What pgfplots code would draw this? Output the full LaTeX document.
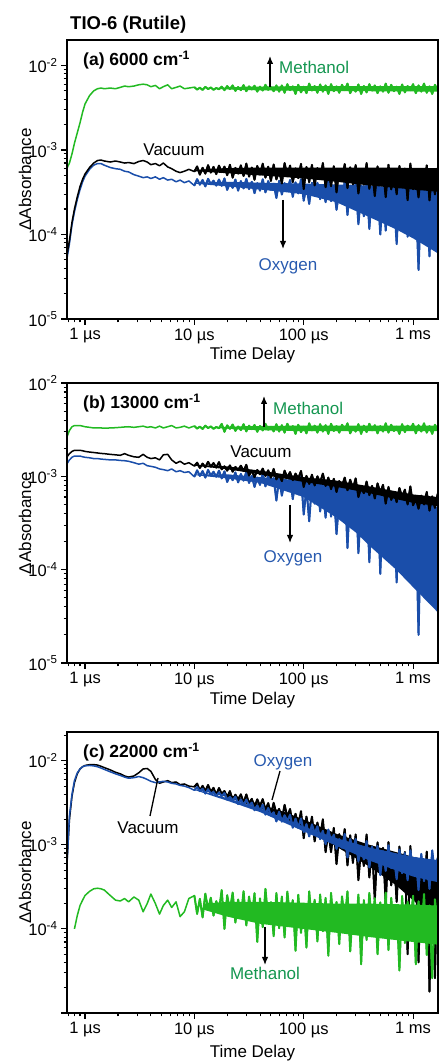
\documentclass[border=0pt]{standalone}
\usepackage{fontspec}
\setmainfont{Liberation Sans}
\usepackage{pgfplots}
\usepackage{pgfplotstable}
\pgfplotsset{compat=1.18}
\usetikzlibrary{arrows.meta}
\definecolor{cgreen}{RGB}{34,186,34}
\definecolor{cblue}{RGB}{26,78,170}
\definecolor{tgreen}{RGB}{20,150,80}
\definecolor{tblue}{RGB}{40,90,175}
\newcommand{\annfont}{\fontsize{17}{20}\selectfont}

% Panel (a) 6000 cm-1 : time (us), vacuum, oxygen, methanol
\pgfplotstableread{
t vac oxy meth
0.68 5.5e-5 5.0e-5 6.0e-4
0.72 8.5e-5 7.8e-5 7.0e-4
0.76 1.4e-4 1.3e-4 9.0e-4
0.8 2.0e-4 1.85e-4 1.2e-3
0.85 2.8e-4 2.6e-4 1.6e-3
0.9 3.7e-4 3.4e-4 2.1e-3
0.95 4.5e-4 4.2e-4 2.8e-3
1.0 5.2e-4 4.9e-4 3.5e-3
1.1 6.2e-4 5.9e-4 4.4e-3
1.2 7.0e-4 6.6e-4 5.0e-3
1.3 7.5e-4 6.9e-4 5.3e-3
1.4 7.6e-4 6.9e-4 5.4e-3
1.5 7.4e-4 6.6e-4 5.3e-3
1.7 7.2e-4 6.2e-4 5.4e-3
1.9 7.4e-4 6.0e-4 5.3e-3
2.1 7.2e-4 5.9e-4 5.5e-3
2.3 7.0e-4 5.6e-4 5.7e-3
2.5 7.1e-4 5.5e-4 5.6e-3
2.8 6.9e-4 5.1e-4 5.7e-3
3.1 7.3e-4 4.9e-4 5.9e-3
3.4 7.5e-4 4.7e-4 6.0e-3
3.7 7.2e-4 4.8e-4 5.9e-3
4.0 6.7e-4 4.6e-4 5.6e-3
4.4 6.9e-4 4.8e-4 5.8e-3
4.8 6.5e-4 4.5e-4 5.3e-3
5.2 7.0e-4 4.7e-4 5.6e-3
5.7 6.3e-4 4.4e-4 5.9e-3
6.2 6.0e-4 4.5e-4 5.3e-3
6.8 5.6e-4 4.2e-4 5.5e-3
7.4 5.4e-4 4.4e-4 5.7e-3
8.1 5.6e-4 4.1e-4 5.3e-3
8.9 5.9e-4 4.3e-4 5.4e-3
10.0 5.55e-4 3.79e-4 5.53e-3
10.59 6.38e-4 4.51e-4 5.18e-3
11.22 5.10e-4 3.88e-4 5.45e-3
11.89 6.15e-4 4.42e-4 5.13e-3
12.59 5.25e-4 3.70e-4 5.58e-3
13.34 6.60e-4 4.56e-4 5.25e-3
14.13 5.40e-4 3.93e-4 5.48e-3
14.96 6.30e-4 4.33e-4 5.15e-3
15.85 5.18e-4 3.79e-4 5.40e-3
16.79 6.53e-4 4.47e-4 5.23e-3
17.78 5.47e-4 3.76e-4 5.60e-3
18.84 6.35e-4 4.60e-4 5.10e-3
19.95 5.03e-4 3.37e-4 5.70e-3
21.13 6.68e-4 4.08e-4 5.25e-3
22.39 4.70e-4 3.56e-4 5.80e-3
23.71 6.13e-4 4.47e-4 5.00e-3
25.12 5.25e-4 3.30e-4 5.55e-3
26.61 6.57e-4 4.28e-4 5.10e-3
28.18 4.92e-4 3.50e-4 5.85e-3
29.85 6.90e-4 4.54e-4 4.95e-3
31.62 4.84e-4 3.45e-4 5.65e-3
33.50 6.19e-4 4.20e-4 5.20e-3
35.48 4.44e-4 3.08e-4 5.75e-3
37.58 6.46e-4 4.05e-4 4.90e-3
39.81 5.11e-4 3.30e-4 5.60e-3
42.17 6.87e-4 4.50e-4 5.05e-3
44.67 4.71e-4 3.15e-4 5.90e-3
47.32 6.33e-4 4.28e-4 5.15e-3
50.12 4.30e-4 3.38e-4 5.50e-3
53.09 6.73e-4 3.98e-4 4.95e-3
56.23 4.48e-4 2.70e-4 5.80e-3
59.57 5.74e-4 4.32e-4 4.90e-3
63.10 4.01e-4 2.97e-4 5.80e-3
66.83 7.00e-4 4.05e-4 4.75e-3
70.79 4.95e-4 3.33e-4 6.00e-3
74.99 6.53e-4 4.41e-4 5.10e-3
79.43 4.17e-4 2.79e-4 5.65e-3
84.14 6.06e-4 4.14e-4 4.60e-3
89.13 4.64e-4 3.06e-4 5.90e-3
94.41 6.84e-4 4.50e-4 4.80e-3
100.0 3.45e-4 2.51e-4 5.60e-3
105.9 6.29e-4 3.77e-4 4.70e-3
112.2 4.16e-4 2.30e-4 6.10e-3
118.9 6.65e-4 4.09e-4 5.05e-3
125.9 3.81e-4 2.93e-4 5.70e-3
133.4 6.11e-4 4.09e-4 4.75e-3
141.3 4.52e-4 2.62e-4 5.95e-3
149.6 7.00e-4 3.77e-4 4.90e-3
158.5 3.63e-4 2.41e-4 5.80e-3
167.9 5.76e-4 4.30e-4 4.60e-3
177.8 3.73e-4 2.48e-4 6.00e-3
188.4 6.42e-4 3.65e-4 4.95e-3
199.5 3.15e-4 1.96e-4 5.65e-3
211.3 5.85e-4 3.26e-4 4.75e-3
223.9 4.50e-4 2.35e-4 5.90e-3
237.1 6.81e-4 4.30e-4 5.10e-3
251.2 3.54e-4 1.70e-4 6.10e-3
266.1 6.23e-4 3.78e-4 4.70e-3
281.8 3.92e-4 2.61e-4 5.50e-3
298.5 6.62e-4 4.04e-4 4.90e-3
316.2 3.06e-4 1.32e-4 5.95e-3
335.0 5.34e-4 3.08e-4 4.60e-3
354.8 3.89e-4 1.64e-4 5.70e-3
375.8 7.00e-4 4.04e-4 4.80e-3
398.1 3.47e-4 1.16e-4 6.00e-3
421.7 5.76e-4 3.40e-4 5.05e-3
446.7 2.85e-4 1.96e-4 5.80e-3
473.2 6.38e-4 3.72e-4 4.70e-3
501.2 4.10e-4 1.00e-4 5.65e-3
530.9 5.96e-4 3.24e-4 4.90e-3
562.3 2.77e-4 1.11e-4 6.10e-3
595.7 6.68e-4 4.00e-4 4.75e-3
631.0 3.42e-4 1.45e-4 5.90e-3
668.3 5.38e-4 2.64e-4 4.95e-3
707.9 2.99e-4 7.7e-5 5.60e-3
749.9 6.47e-4 3.66e-4 4.60e-3
794.3 4.07e-4 1.28e-4 5.95e-3
841.4 6.03e-4 3.32e-4 4.80e-3
891.3 2.55e-4 9.4e-5 5.70e-3
944.1 6.90e-4 3.83e-4 5.10e-3
1000 3.43e-4 1.58e-4 6.00e-3
1059 5.00e-4 2.77e-4 4.70e-3
1122 2.75e-4 3.8e-5 5.80e-3
1189 5.68e-4 3.29e-4 4.90e-3
1259 3.65e-4 8.9e-5 6.10e-3
1334 6.58e-4 2.60e-4 4.75e-3
1413 2.53e-4 5.5e-5 5.65e-3
1496 5.45e-4 3.80e-4 4.60e-3
1585 2.98e-4 1.41e-4 5.90e-3
1679 6.13e-4 2.95e-4 5.05e-3
}\taba

% Panel (b) 13000 cm-1
\pgfplotstableread{
t vac oxy meth
0.68 1.60e-3 1.35e-3 2.6e-3
0.72 1.75e-3 1.50e-3 3.1e-3
0.76 1.85e-3 1.60e-3 3.4e-3
0.8 1.90e-3 1.65e-3 3.5e-3
0.85 1.90e-3 1.65e-3 3.5e-3
0.9 1.90e-3 1.65e-3 3.5e-3
0.95 1.88e-3 1.62e-3 3.45e-3
1.0 1.85e-3 1.60e-3 3.4e-3
1.1 1.82e-3 1.58e-3 3.35e-3
1.2 1.80e-3 1.55e-3 3.3e-3
1.3 1.78e-3 1.55e-3 3.3e-3
1.4 1.76e-3 1.53e-3 3.3e-3
1.5 1.75e-3 1.52e-3 3.28e-3
1.7 1.72e-3 1.50e-3 3.3e-3
1.9 1.70e-3 1.50e-3 3.32e-3
2.1 1.68e-3 1.48e-3 3.35e-3
2.3 1.75e-3 1.47e-3 3.38e-3
2.5 1.68e-3 1.45e-3 3.4e-3
2.8 1.62e-3 1.40e-3 3.35e-3
3.1 1.60e-3 1.35e-3 3.4e-3
3.4 1.72e-3 1.38e-3 3.45e-3
3.7 1.60e-3 1.30e-3 3.35e-3
4.0 1.55e-3 1.28e-3 3.4e-3
4.4 1.58e-3 1.25e-3 3.3e-3
4.8 1.50e-3 1.20e-3 3.45e-3
5.2 1.70e-3 1.18e-3 3.3e-3
5.7 1.72e-3 1.15e-3 3.4e-3
6.2 1.50e-3 1.20e-3 3.5e-3
6.8 1.38e-3 1.12e-3 3.3e-3
7.4 1.45e-3 1.15e-3 3.35e-3
8.1 1.35e-3 1.10e-3 3.45e-3
8.9 1.40e-3 1.12e-3 3.3e-3
10.0 1.29e-3 9.9e-4 3.46e-3
10.59 1.40e-3 1.16e-3 3.25e-3
11.22 1.23e-3 1.01e-3 3.41e-3
11.89 1.37e-3 1.14e-3 3.22e-3
12.59 1.25e-3 9.7e-4 3.49e-3
13.34 1.43e-3 1.17e-3 3.29e-3
14.13 1.27e-3 1.02e-3 3.43e-3
14.96 1.39e-3 1.12e-3 3.23e-3
15.85 1.24e-3 9.9e-4 3.38e-3
16.79 1.42e-3 1.15e-3 3.28e-3
17.78 1.19e-3 9.5e-4 3.65e-3
18.84 1.28e-3 1.13e-3 3.00e-3
19.95 1.15e-3 8.7e-4 3.52e-3
21.13 1.31e-3 1.02e-3 3.23e-3
22.39 1.12e-3 9.1e-4 3.59e-3
23.71 1.26e-3 1.10e-3 3.07e-3
25.12 1.17e-3 8.6e-4 3.42e-3
26.61 1.30e-3 1.06e-3 3.13e-3
28.18 1.14e-3 9.0e-4 3.62e-3
29.85 1.33e-3 1.12e-3 3.03e-3
31.62 1.02e-3 8.5e-4 3.49e-3
33.50 1.15e-3 1.01e-3 3.20e-3
35.48 9.8e-4 7.7e-4 3.55e-3
37.58 1.17e-3 9.7e-4 3.00e-3
39.81 1.05e-3 8.1e-4 3.46e-3
42.17 1.21e-3 1.07e-3 3.10e-3
44.67 1.01e-3 7.8e-4 3.65e-3
47.32 1.16e-3 1.02e-3 3.16e-3
50.12 9.7e-4 8.3e-4 3.39e-3
53.09 1.20e-3 9.6e-4 3.03e-3
56.23 9.3e-4 5.5e-4 3.62e-3
59.57 1.04e-3 9.6e-4 3.02e-3
63.10 8.9e-4 6.2e-4 3.53e-3
66.83 1.15e-3 8.9e-4 2.94e-3
70.79 9.7e-4 7.1e-4 3.66e-3
74.99 1.11e-3 9.8e-4 3.15e-3
79.43 9.1e-4 5.7e-4 3.45e-3
84.14 1.07e-3 9.1e-4 2.85e-3
89.13 9.5e-4 6.4e-4 3.57e-3
94.41 1.14e-3 1.00e-3 2.98e-3
100.0 7.7e-4 3.9e-4 3.40e-3
105.9 1.01e-3 7.5e-4 2.89e-3
112.2 8.3e-4 3.3e-4 3.70e-3
118.9 1.04e-3 8.4e-4 3.11e-3
125.9 8.0e-4 5.1e-4 3.49e-3
133.4 1.00e-3 8.4e-4 2.94e-3
141.3 8.6e-4 4.2e-4 3.62e-3
149.6 1.07e-3 7.5e-4 3.02e-3
158.5 7.9e-4 3.6e-4 3.53e-3
167.9 9.7e-4 9.0e-4 2.85e-3
177.8 7.3e-4 3.7e-4 3.66e-3
188.4 9.4e-4 6.7e-4 3.06e-3
199.5 6.8e-4 2.4e-4 3.45e-3
211.3 8.9e-4 5.7e-4 2.94e-3
223.9 7.9e-4 3.4e-4 3.57e-3
237.1 9.7e-4 8.4e-4 3.15e-3
251.2 7.1e-4 1.7e-4 3.70e-3
266.1 9.2e-4 7.1e-4 2.89e-3
281.8 7.4e-4 4.0e-4 3.36e-3
298.5 9.5e-4 7.7e-4 3.02e-3
316.2 6.0e-4 1.5e-4 3.62e-3
335.0 7.6e-4 5.0e-4 2.85e-3
354.8 6.6e-4 2.2e-4 3.49e-3
375.8 8.8e-4 6.9e-4 2.98e-3
398.1 6.3e-4 1.2e-4 3.66e-3
421.7 7.9e-4 5.6e-4 3.11e-3
446.7 5.8e-4 2.8e-4 3.53e-3
473.2 8.4e-4 6.3e-4 2.89e-3
501.2 6.7e-4 9.0e-5 3.45e-3
530.9 8.1e-4 5.3e-4 3.02e-3
562.3 5.1e-4 1.3e-4 3.70e-3
595.7 7.7e-4 6.1e-4 2.94e-3
631.0 5.6e-4 1.9e-4 3.57e-3
668.3 6.8e-4 3.8e-4 3.06e-3
707.9 5.3e-4 7.3e-5 3.40e-3
749.9 7.5e-4 5.5e-4 2.85e-3
794.3 6.0e-4 1.6e-4 3.62e-3
841.4 7.2e-4 5.0e-4 2.98e-3
891.3 5.0e-4 1.0e-4 3.49e-3
944.1 7.8e-4 5.8e-4 3.15e-3
1000 4.9e-4 1.95e-4 3.66e-3
1059 5.8e-4 3.7e-4 2.89e-3
1122 4.5e-4 2.0e-5 3.53e-3
1189 6.2e-4 4.45e-4 3.02e-3
1259 5.0e-4 9.5e-5 3.70e-3
1334 6.8e-4 3.45e-4 2.94e-3
1413 4.3e-4 4.5e-5 3.45e-3
1496 6.1e-4 5.2e-4 2.85e-3
1585 4.6e-4 1.7e-4 3.57e-3
1679 6.5e-4 3.95e-4 3.11e-3
}\tabb

% Panel (c) 22000 cm-1
\pgfplotstableread{
t vac oxy meth
0.68 5.5e-4 5.0e-4 nan
0.72 2.0e-3 2.2e-3 nan
0.76 3.8e-3 4.0e-3 nan
0.8 5.5e-3 5.8e-3 1.0e-4
0.85 7.0e-3 7.2e-3 1.45e-4
0.9 8.0e-3 8.0e-3 1.9e-4
0.95 8.5e-3 8.5e-3 2.2e-4
1.0 8.8e-3 8.7e-3 2.5e-4
1.1 9.0e-3 8.8e-3 2.8e-4
1.2 9.0e-3 8.7e-3 3.0e-4
1.3 8.9e-3 8.5e-3 3.05e-4
1.4 8.6e-3 8.2e-3 3.0e-4
1.5 8.3e-3 7.9e-3 2.9e-4
1.7 7.8e-3 7.4e-3 2.5e-4
1.9 7.3e-3 7.0e-3 2.2e-4
2.1 7.0e-3 6.7e-3 2.15e-4
2.3 6.6e-3 6.4e-3 2.3e-4
2.5 6.4e-3 6.2e-3 2.1e-4
2.8 6.6e-3 6.3e-3 2.4e-4
3.1 7.2e-3 6.5e-3 2.2e-4
3.4 8.0e-3 6.3e-3 1.6e-4
3.7 8.1e-3 6.0e-3 2.0e-4
4.0 7.5e-3 5.7e-3 2.6e-4
4.4 6.0e-3 5.5e-3 2.0e-4
4.8 5.4e-3 5.6e-3 1.5e-4
5.2 5.6e-3 5.7e-3 1.9e-4
5.7 5.8e-3 5.6e-3 2.2e-4
6.2 5.5e-3 5.4e-3 1.8e-4
6.8 5.6e-3 5.3e-3 2.1e-4
7.4 5.2e-3 5.1e-3 1.4e-4
8.1 5.3e-3 5.0e-3 1.6e-4
8.9 5.0e-3 4.8e-3 2.3e-4
10.0 4.90e-3 4.46e-3 2.49e-4
10.59 5.36e-3 4.86e-3 1.51e-4
11.22 4.42e-3 4.36e-3 2.28e-4
11.89 5.03e-3 4.64e-3 1.37e-4
12.59 4.34e-3 4.08e-3 2.63e-4
13.34 5.15e-3 4.57e-3 1.72e-4
14.13 4.26e-3 4.07e-3 2.35e-4
14.96 4.77e-3 4.26e-3 1.44e-4
15.85 3.93e-3 3.82e-3 2.14e-4
16.79 4.74e-3 4.19e-3 1.65e-4
17.78 4.05e-3 3.81e-3 2.90e-4
18.84 4.37e-3 4.12e-3 1.00e-4
19.95 3.69e-3 3.45e-3 2.52e-4
21.13 4.36e-3 3.71e-3 1.67e-4
22.39 3.38e-3 3.37e-3 2.71e-4
23.71 3.95e-3 3.74e-3 1.19e-4
25.12 3.47e-3 3.06e-3 2.24e-4
26.61 3.99e-3 3.47e-3 1.38e-4
28.18 3.16e-3 2.98e-3 2.81e-4
29.85 3.98e-3 3.45e-3 1.10e-4
31.62 3.10e-3 2.91e-3 2.43e-4
33.50 3.53e-3 3.18e-3 1.39e-4
35.48 2.79e-3 2.58e-3 2.66e-4
37.58 3.48e-3 2.95e-3 7.0e-5
39.81 2.89e-3 2.52e-3 2.31e-4
42.17 3.50e-3 3.00e-3 1.05e-4
44.67 2.58e-3 2.29e-3 3.00e-4
47.32 3.14e-3 2.74e-3 1.28e-4
50.12 2.26e-3 2.24e-3 2.08e-4
53.09 3.16e-3 2.44e-3 8.2e-5
56.23 2.32e-3 1.90e-3 2.67e-4
59.57 2.68e-3 2.47e-3 1.02e-4
63.10 1.98e-3 1.89e-3 2.43e-4
66.83 2.99e-3 2.25e-3 7.9e-5
70.79 2.15e-3 1.92e-3 2.78e-4
74.99 2.67e-3 2.27e-3 1.37e-4
79.43 1.68e-3 1.60e-3 2.20e-4
84.14 2.34e-3 2.05e-3 5.5e-5
89.13 1.70e-3 1.59e-3 2.55e-4
94.41 2.51e-3 2.06e-3 9.0e-5
100.0 1.20e-3 1.42e-3 1.99e-4
105.9 2.17e-3 1.76e-3 6.0e-5
112.2 1.34e-3 1.26e-3 2.80e-4
118.9 2.16e-3 1.75e-3 1.18e-4
125.9 1.10e-3 1.36e-3 2.22e-4
133.4 1.84e-3 1.66e-3 7.1e-5
141.3 1.23e-3 1.17e-3 2.57e-4
149.6 2.01e-3 1.47e-3 9.4e-5
158.5 8.2e-4 1.02e-3 2.34e-4
167.9 1.46e-3 1.52e-3 4.8e-5
177.8 8.2e-4 1.08e-3 2.68e-4
188.4 1.59e-3 1.32e-3 1.02e-4
199.5 5.9e-4 8.96e-4 2.09e-4
211.3 1.34e-3 1.17e-3 6.6e-5
223.9 9.1e-4 9.24e-4 2.44e-4
237.1 1.54e-3 1.35e-3 1.25e-4
251.2 5.7e-4 7.08e-4 2.80e-4
266.1 1.30e-3 1.17e-3 5.4e-5
281.8 6.1e-4 8.6e-4 1.85e-4
298.5 1.33e-3 1.17e-3 9.0e-5
316.2 3.8e-4 6.4e-4 2.56e-4
335.0 9.5e-4 9.6e-4 3.8e-5
354.8 5.6e-4 6.7e-4 2.20e-4
375.8 1.33e-3 1.11e-3 7.4e-5
398.1 4.1e-4 5.4e-4 2.68e-4
421.7 9.6e-4 9.5e-4 1.11e-4
446.7 2.2e-4 6.5e-4 2.32e-4
473.2 1.07e-3 9.7e-4 5.0e-5
501.2 4.9e-4 4.36e-4 2.07e-4
530.9 9.2e-4 8.4e-4 8.6e-5
562.3 2.0e-4 4.9e-4 2.70e-4
595.7 1.08e-3 9.88e-4 5.6e-5
631.0 3.3e-4 5.3e-4 2.34e-4
668.3 7.5e-4 7.3e-4 9.2e-5
707.9 2.1e-4 3.9e-4 1.87e-4
749.9 9.55e-4 8.8e-4 3.2e-5
794.3 4.2e-4 4.6e-4 2.46e-4
841.4 8.2e-4 8.0e-4 6.8e-5
891.3 5.0e-5 3.8e-4 2.10e-4
944.1 9.7e-4 8.6e-4 1.15e-4
1000 2.75e-4 5.0e-4 2.48e-4
1059 5.7e-4 7.0e-4 3.8e-5
1122 4.0e-5 2.9e-4 2.13e-4
1189 6.8e-4 7.8e-4 7.3e-5
1259 2.9e-4 3.7e-4 2.60e-4
1334 8.3e-4 6.6e-4 4.9e-5
1413 1.8e-5 3.0e-4 1.90e-4
1496 5.9e-4 8.6e-4 2.6e-5
1585 2.6e-5 4.4e-4 2.25e-4
1679 6.8e-4 7.0e-4 9.6e-5
}\tabc

\pgfplotsset{
  base/.style={mark=none, line width=1.5pt, line join=round},
  noisy/.style={mark=none, line width=2.0pt, line join=round, skip coords between index={0}{32}},
  core/.style={draw=none},
}

\begin{document}
\begin{tikzpicture}
\path[use as bounding box] (0,0) rectangle (440pt,1062pt);

% ---------- (a)
\begin{axis}[
  xmode=log, ymode=log,
  scale only axis, width=371pt, height=279pt,
  at={(67pt,743pt)}, anchor=south west,
  xmin=0.684, xmax=1690, ymin=1e-5, ymax=2e-2,
  xtick={1,10,100,1000},
  xticklabels={1 µs,10 µs,100 µs,1 ms},
  minor xtick={0.7,0.8,0.9,2,3,4,5,6,7,8,9,20,30,40,50,60,70,80,90,200,300,400,500,600,700,800,900},
  ytick={1e-5,1e-4,1e-3,1e-2},
  yticklabels={10\textsuperscript{-5},10\textsuperscript{-4},10\textsuperscript{-3},10\textsuperscript{-2}},
  minor ytick={2e-5,3e-5,4e-5,5e-5,6e-5,7e-5,8e-5,9e-5,2e-4,3e-4,4e-4,5e-4,6e-4,7e-4,8e-4,9e-4,2e-3,3e-3,4e-3,5e-3,6e-3,7e-3,8e-3,9e-3},
  tick align=outside, xtick pos=left, ytick pos=left,
  major tick length=6pt, minor tick length=3.5pt,
  tick style={black, line width=1.1pt},
  axis line style={line width=1.8pt},
  tick label style={font=\fontsize{16.5}{19}\selectfont},
  label style={font=\fontsize{17}{20}\selectfont},
  xlabel={Time Delay}, ylabel={ΔAbsorbance},
  ylabel style={at={(axis description cs:-0.113,0.5)}, anchor=center},
  xlabel style={at={(axis description cs:0.5,-0.129)}, anchor=center},
  axis on top]
% oxygen
\addplot[core, fill=cblue] coordinates {(10,4.1e-4) (20,4.2e-4) (40,4.1e-4) (100,4.0e-4) (200,3.9e-4) (400,3.8e-4) (700,3.6e-4) (1000,3.5e-4) (1679,3.3e-4)
  (1679,6.0e-5) (1000,9.0e-5) (700,1.15e-4) (400,1.6e-4) (200,2.4e-4) (100,3.0e-4) (40,3.4e-4) (20,3.7e-4) (10,4.0e-4)} --cycle;
\addplot[base, cblue] table[x=t, y=oxy] {\taba};
\addplot[noisy, cblue] table[x=t, y=oxy] {\taba};
% vacuum
\addplot[core, fill=black] coordinates {(10,5.8e-4) (20,6.1e-4) (40,6.2e-4) (100,6.2e-4) (400,6.2e-4) (1679,6.1e-4)
  (1679,3.2e-4) (1000,3.4e-4) (400,3.8e-4) (200,4.2e-4) (100,4.6e-4) (40,5.0e-4) (20,5.3e-4) (10,5.6e-4)} --cycle;
\addplot[base, black] table[x=t, y=vac] {\taba};
\addplot[noisy, black] table[x=t, y=vac] {\taba};
% methanol
\addplot[core, fill=cgreen] coordinates {(15,5.4e-3) (30,5.6e-3) (100,5.7e-3) (1679,5.7e-3) (1679,4.9e-3) (100,5.0e-3) (30,5.1e-3) (15,5.3e-3)} --cycle;
\addplot[base, cgreen] table[x=t, y=meth] {\taba};
\addplot[noisy, cgreen] table[x=t, y=meth] {\taba};
\end{axis}

% ---------- (b)
\begin{axis}[
  xmode=log, ymode=log,
  scale only axis, width=371pt, height=280pt,
  at={(67pt,399pt)}, anchor=south west,
  xmin=0.684, xmax=1690, ymin=1e-5, ymax=1e-2,
  xtick={1,10,100,1000},
  xticklabels={1 µs,10 µs,100 µs,1 ms},
  minor xtick={0.7,0.8,0.9,2,3,4,5,6,7,8,9,20,30,40,50,60,70,80,90,200,300,400,500,600,700,800,900},
  ytick={1e-5,1e-4,1e-3,1e-2},
  yticklabels={10\textsuperscript{-5},10\textsuperscript{-4},10\textsuperscript{-3},10\textsuperscript{-2}},
  minor ytick={2e-5,3e-5,4e-5,5e-5,6e-5,7e-5,8e-5,9e-5,2e-4,3e-4,4e-4,5e-4,6e-4,7e-4,8e-4,9e-4,2e-3,3e-3,4e-3,5e-3,6e-3,7e-3,8e-3,9e-3},
  tick align=outside, xtick pos=left, ytick pos=left,
  major tick length=6pt, minor tick length=3.5pt,
  tick style={black, line width=1.1pt},
  axis line style={line width=1.8pt},
  tick label style={font=\fontsize{16.5}{19}\selectfont},
  label style={font=\fontsize{17}{20}\selectfont},
  xlabel={Time Delay}, ylabel={ΔAbsorbance},
  ylabel style={at={(axis description cs:-0.113,0.5)}, anchor=center},
  xlabel style={at={(axis description cs:0.5,-0.132)}, anchor=center},
  axis on top]
% oxygen
\addplot[core, fill=cblue] coordinates {(10,1.05e-3) (20,1.05e-3) (40,9.8e-4) (100,9.0e-4) (200,8.3e-4) (300,7.6e-4) (400,7.0e-4) (700,6.0e-4) (1000,5.5e-4) (1679,4.7e-4)
  (1679,3.5e-5) (1000,6.5e-5) (700,1.0e-4) (400,1.8e-4) (300,2.5e-4) (200,3.6e-4) (100,6.0e-4) (40,8.5e-4) (20,9.5e-4) (10,1.03e-3)} --cycle;
\addplot[base, cblue] table[x=t, y=oxy] {\tabb};
\addplot[noisy, cblue] table[x=t, y=oxy] {\tabb};
% vacuum
\addplot[core, fill=black] coordinates {(10,1.33e-3) (20,1.28e-3) (40,1.15e-3) (100,9.8e-4) (200,9.0e-4) (400,7.8e-4) (1000,6.4e-4) (1679,6.0e-4)
  (1679,4.8e-4) (1000,5.2e-4) (400,6.6e-4) (200,7.7e-4) (100,8.7e-4) (40,1.05e-3) (20,1.19e-3) (10,1.30e-3)} --cycle;
\addplot[base, black] table[x=t, y=vac] {\tabb};
\addplot[noisy, black] table[x=t, y=vac] {\tabb};
% methanol
\addplot[core, fill=cgreen] coordinates {(15,3.35e-3) (30,3.45e-3) (100,3.5e-3) (1679,3.5e-3) (1679,3.05e-3) (100,3.05e-3) (30,3.15e-3) (15,3.3e-3)} --cycle;
\addplot[base, cgreen] table[x=t, y=meth] {\tabb};
\addplot[noisy, cgreen] table[x=t, y=meth] {\tabb};
\end{axis}

% ---------- (c)
\begin{axis}[
  xmode=log, ymode=log,
  scale only axis, width=371pt, height=281pt,
  at={(67pt,49pt)}, anchor=south west,
  xmin=0.684, xmax=1690, ymin=1e-5, ymax=2.2e-2,
  xtick={1,10,100,1000},
  xticklabels={1 µs,10 µs,100 µs,1 ms},
  minor xtick={0.7,0.8,0.9,2,3,4,5,6,7,8,9,20,30,40,50,60,70,80,90,200,300,400,500,600,700,800,900},
  ytick={1e-5,1e-4,1e-3,1e-2},
  yticklabels={,10\textsuperscript{-4},10\textsuperscript{-3},10\textsuperscript{-2}},
  minor ytick={2e-5,3e-5,4e-5,5e-5,6e-5,7e-5,8e-5,9e-5,2e-4,3e-4,4e-4,5e-4,6e-4,7e-4,8e-4,9e-4,2e-3,3e-3,4e-3,5e-3,6e-3,7e-3,8e-3,9e-3,2e-2},
  tick align=outside, xtick pos=left, ytick pos=left,
  major tick length=6pt, minor tick length=3.5pt,
  tick style={black, line width=1.1pt},
  axis line style={line width=1.8pt},
  tick label style={font=\fontsize{16.5}{19}\selectfont},
  label style={font=\fontsize{17}{20}\selectfont},
  xlabel={Time Delay}, ylabel={ΔAbsorbance},
  ylabel style={at={(axis description cs:-0.113,0.5)}, anchor=center},
  xlabel style={at={(axis description cs:0.5,-0.142)}, anchor=center},
  axis on top]
% vacuum
\addplot[core, fill=black] coordinates {(10,4.8e-3) (20,4.0e-3) (40,3.05e-3) (70,2.4e-3) (100,2.0e-3) (200,1.35e-3) (400,1.0e-3) (700,8.2e-4) (1000,7.2e-4) (1679,6.2e-4)
  (1679,1.2e-4) (1000,2.2e-4) (700,3.3e-4) (400,5.5e-4) (200,9.5e-4) (100,1.6e-3) (70,2.0e-3) (40,2.7e-3) (20,3.7e-3) (10,4.7e-3)} --cycle;
\addplot[base, black] table[x=t, y=vac] {\tabc};
\addplot[noisy, black] table[x=t, y=vac] {\tabc};
% oxygen
\addplot[core, fill=cblue] coordinates {(10,4.6e-3) (20,3.6e-3) (40,2.7e-3) (100,1.65e-3) (200,1.2e-3) (400,9.3e-4) (1000,7.2e-4) (1679,6.6e-4)
  (1679,3.6e-4) (1000,4.2e-4) (400,6.5e-4) (200,9.7e-4) (100,1.45e-3) (40,2.45e-3) (20,3.35e-3) (10,4.5e-3)} --cycle;
\addplot[base, cblue] table[x=t, y=oxy] {\tabc};
\addplot[noisy, cblue] table[x=t, y=oxy] {\tabc};
% methanol
\addplot[core, fill=cgreen] coordinates {(12,2.0e-4) (20,2.1e-4) (40,2.1e-4) (100,2.05e-4) (200,2.0e-4) (400,2.0e-4) (1000,1.95e-4) (1679,1.9e-4)
  (1679,6.5e-5) (1000,7.0e-5) (400,8.0e-5) (200,9.0e-5) (100,1.0e-4) (40,1.15e-4) (20,1.4e-4) (12,1.7e-4)} --cycle;
\addplot[base, cgreen] table[x=t, y=meth] {\tabc};
\addplot[noisy, cgreen] table[x=t, y=meth] {\tabc};
\end{axis}

% ---------- titles and annotations
\node[anchor=west, inner sep=0pt, font=\bfseries\fontsize{18.5}{22}\selectfont] at (70pt,1037pt) {TIO-6 (Rutile)};
\node[anchor=west, inner sep=0pt, font=\bfseries\fontsize{17.5}{21}\selectfont] at (83pt,1002pt) {(a) 6000 cm\textsuperscript{-1}};
\node[anchor=west, inner sep=0pt, font=\bfseries\fontsize{17.5}{21}\selectfont] at (83pt,659pt) {(b) 13000 cm\textsuperscript{-1}};
\node[anchor=west, inner sep=0pt, font=\bfseries\fontsize{17.5}{21}\selectfont] at (83pt,310pt) {(c) 22000 cm\textsuperscript{-1}};

% (a)
\node[anchor=west, inner sep=0pt, text=tgreen, font=\annfont] at (279pt,995pt) {Methanol};
\draw[line width=1.3pt, -{Latex[length=8pt,width=6.5pt]}] (270pt,975pt) -- (270pt,1006pt);
\node[inner sep=0pt, font=\annfont] at (174pt,912pt) {Vacuum};
\node[inner sep=0pt, text=tblue, font=\annfont] at (288pt,796pt) {Oxygen};
\draw[line width=1.3pt, -{Latex[length=8pt,width=6.5pt]}] (283pt,862pt) -- (283pt,813pt);

% (b)
\node[anchor=west, inner sep=0pt, text=tgreen, font=\annfont] at (273pt,654pt) {Methanol};
\draw[line width=1.3pt, -{Latex[length=8pt,width=6.5pt]}] (264pt,635pt) -- (264pt,666pt);
\node[inner sep=0pt, font=\annfont] at (261pt,610pt) {Vacuum};
\node[inner sep=0pt, text=tblue, font=\annfont] at (293pt,504pt) {Oxygen};
\draw[line width=1.3pt, -{Latex[length=8pt,width=6.5pt]}] (290pt,557pt) -- (290pt,519pt);

% (c)
\node[inner sep=0pt, text=tblue, font=\annfont] at (283pt,300pt) {Oxygen};
\draw[line width=1.3pt] (280pt,291pt) -- (272pt,262pt);
\node[inner sep=0pt, font=\annfont] at (148pt,234pt) {Vacuum};
\draw[line width=1.3pt] (150pt,246pt) -- (158pt,284pt);
\node[inner sep=0pt, text=tgreen, font=\annfont] at (265pt,89pt) {Methanol};
\draw[line width=1.3pt, -{Latex[length=8pt,width=6.5pt]}] (265pt,135pt) -- (265pt,97pt);
\end{tikzpicture}
\end{document}
